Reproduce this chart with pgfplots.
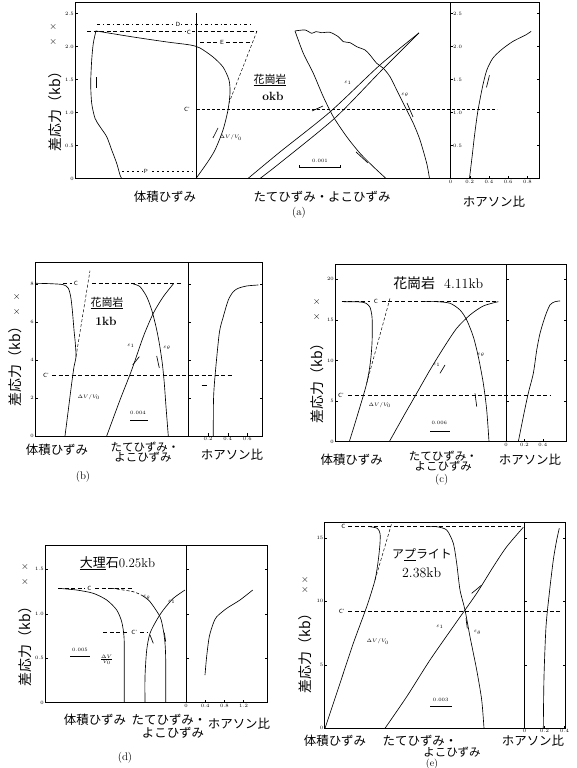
\documentclass[border=0pt]{standalone}
\usepackage{pgfplots}
\pgfplotsset{compat=1.18}
\usepackage{fontspec}
\newfontfamily\cjk{Noto Sans CJK JP}
\newcommand{\tk}{\fontsize{5}{5}\selectfont}
\newcommand{\sm}{\fontsize{6}{6}\selectfont}
\newcommand{\jl}{\fontsize{12.5}{13}\selectfont\cjk}
\tikzset{
 cv/.style={black,line width=0.65bp,smooth,tension=0.45},
 ln/.style={black,line width=0.65bp},
 dsh/.style={black,line width=0.55bp,dash pattern=on 4bp off 2.5bp},
 lb/.style={font=\sm\sffamily,inner sep=0.6pt,fill=white},
 el/.style={font=\tk,inner sep=0.5pt},
}
\pgfplotsset{
 base/.style={scale only axis,anchor=south west,clip=false,
   axis line style={line width=0.8bp},
   every tick/.style={black,line width=0.4bp},
   major tick length=2.5bp,tick align=inside,
   ticklabel style={font=\tk,inner sep=1pt}},
 strain/.style={base,xtick=\empty,ytick pos=left},
 pois/.style={base,xtick pos=bottom,ytick pos=both},
}
\begin{document}
\begin{tikzpicture}
\path[use as bounding box] (0,0) rectangle (577bp,768bp);

%================ (a) =================
\begin{axis}[strain,at={(75bp,589.5bp)},width=375.5bp,height=176.5bp,
  xmin=75,xmax=450.5,ymin=0,ymax=2.674,
  ytick={0,0.5,1,1.5,2,2.5},yticklabels={0,0.5,1.0,1.5,2.0,2.5}]
\addplot[ln] coordinates {(196,0) (196,2.5)};
\addplot[cv] coordinates {(196,0) (207,0.235) (215,0.432) (223,0.735) (228,1.038) (230,1.295) (229,1.492) (223,1.689) (213,1.841) (200,1.977) (190,2.023) (167,2.068) (133,2.144) (96,2.235)};
\addplot[cv] coordinates {(96,2.239) (93.3,2.048) (91.7,1.795) (90.7,1.442) (91.7,1.139) (95,0.912) (100,0.785) (106.7,0.633) (111.7,0.432) (116.7,0.23) (120,0.053) (121.7,0)};
\addplot[black,line width=0.5bp,dash pattern=on 3bp off 3bp on 0.8bp off 3bp] coordinates {(97,2.341) (253,2.341)};
\addplot[dsh] coordinates {(87,2.235) (257,2.235)};
\addplot[dsh] coordinates {(200,2.068) (250,2.068)};
\addplot[black,line width=0.5bp,dash pattern=on 3bp off 2bp] coordinates {(257,2.235) (229,1.144)};
\addplot[black,line width=0.55bp,dash pattern=on 3bp off 2bp] coordinates {(197,1.048) (497,1.048)};
\addplot[black,line width=0.5bp,dash pattern=on 2bp off 3bp] coordinates {(122,0.114) (193,0.114)};
\addplot[ln] coordinates {(96,1.371) (96,1.538)};
\addplot[ln] coordinates {(213,0.614) (218,0.765)};
\node[lb] at (axis cs:178,2.341) {D};
\node[lb] at (axis cs:189,2.22) {C};
\node[lb] at (axis cs:222,2.068) {E};
\node[lb] at (axis cs:187,1.048) {C'};
\node[lb] at (axis cs:146,0.114) {P};
\node[el,anchor=west] at (axis cs:219,0.62) {$\Delta V/V_0$};
% axial / lateral
\addplot[cv] coordinates {(248,0) (280,0.402) (330,1.008) (380,1.72) (419,2.205)};
\addplot[cv] coordinates {(260,0) (280,0.235) (335,0.917) (380,1.614) (419,2.205)};
\addplot[cv] coordinates {(295,2.235) (303.3,1.897) (313.3,1.594) (323.3,1.239) (333.3,0.936) (346.7,0.633) (360,0.382) (373.3,0.179) (386,0)};
\addplot[cv] coordinates {(295,2.235) (305,2.25) (311.7,2.2) (316,2.225) (321.7,2.209) (330,2.215) (338.3,2.148) (343.3,2.073) (350,2.058) (356.7,1.997) (365,1.947) (370,1.871) (376.7,1.745) (383.3,1.67) (390,1.542) (396.7,1.341) (403.3,1.139) (413.3,0.836) (420,0.583) (426.7,0.23) (429.5,0)};
\addplot[ln] coordinates {(312,1.023) (323,1.098)};
\addplot[ln] coordinates {(356,0.402) (368,0.235)};
\addplot[ln] coordinates {(407,1.144) (413,0.932)};
\addplot[black,line width=0.6bp] coordinates {(299,0.2) (299,0.174) (340,0.174) (340,0.2)};
\node[el] at (axis cs:320,0.26) {0.001};
\node[el] at (axis cs:348,1.447) {$\varepsilon_1$};
\node[el] at (axis cs:405,1.265) {$\varepsilon_\theta$};
\end{axis}
\begin{axis}[pois,at={(450.5bp,589.5bp)},width=88.5bp,height=176.5bp,
  xmin=0,xmax=0.92,ymin=0,ymax=2.674,
  xtick={0,0.2,0.4,0.6,0.8},xticklabels={0,0.2,0.4,0.6,0.8},
  ytick={0.5,1,1.5,2,2.5},yticklabels={0.5,1.0,1.5,2.0,2.5},
  yticklabel pos=left,yticklabel style={anchor=west,xshift=1.5bp}]
\addplot[cv] coordinates {(0.197,0) (0.225,0.337) (0.249,0.644) (0.277,0.951) (0.301,1.155) (0.336,1.411) (0.377,1.641) (0.439,1.82) (0.527,1.948) (0.647,2.075) (0.786,2.178) (0.838,2.229)};
\addplot[ln] coordinates {(0.374,1.38) (0.405,1.564)};
\end{axis}
\node[rotate=90,font=\fontsize{14}{14}\selectfont\cjk] at (55bp,660bp) {差応力（kb）};
\node at (53.3bp,741.3bp) {$\times$};
\node at (53.3bp,726.3bp) {$\times$};
\node[font=\jl] at (165bp,571bp) {体積ひずみ};
\node[font=\jl] at (322bp,571bp) {たてひずみ・よこひずみ};
\node[font=\jl] at (494bp,566bp) {ホアソン比};
\node[font=\fontsize{11}{11}\selectfont] at (299bp,555bp) {(a)};
\node[font=\fontsize{11}{11}\selectfont\cjk] at (270bp,688bp) {\underline{花崗岩}};
\node[font=\fontsize{12}{12}\selectfont\bfseries] at (273bp,672bp) {okb};

%================ (b) =================
\begin{axis}[strain,at={(35bp,332bp)},width=153.5bp,height=173.3bp,
  xmin=35,xmax=188.5,ymin=0,ymax=9.12,ytick={0,2,4,6,8}]
\addplot[cv] coordinates {(65,0) (68.3,1.368) (71.7,2.774) (74,3.647) (76,4.174) (75.3,4.879) (74,5.579) (72.3,6.632) (70.7,7.332) (68.3,7.774) (63.3,7.963) (50,8.016) (35,8.037)};
\addplot[black,line width=0.5bp,dash pattern=on 3bp off 2bp] coordinates {(76,4.174) (90,8.7)};
\addplot[dsh] coordinates {(63,8.016) (72,8.016)};
\addplot[dsh] coordinates {(92,8.016) (182,8.016)};
\addplot[dsh] coordinates {(52,3.17) (233,3.17)};
\node[lb] at (axis cs:76,8.016) {C};
\node[lb] at (axis cs:46,3.17) {C'};
\addplot[cv] coordinates {(106.7,0) (120,1.895) (131.7,3.474) (143.3,5.226) (153.3,6.458) (163.3,7.332) (173.3,8.0)};
\addplot[cv] coordinates {(133.3,8.0) (140,7.858) (146.7,7.332) (151.7,6.632) (156,5.753) (159.3,4.879) (162.3,3.826) (164.3,2.774) (166,1.542) (168.3,0)};
\addplot[ln] coordinates {(132.7,3.737) (139.3,4.174)};
\addplot[ln] coordinates {(156.7,4.211) (159.3,3.579)};
\addplot[black,line width=0.6bp] coordinates {(130,0.842) (148,0.842)};
\node[el] at (axis cs:138,1.21) {0.004};
\node[el] at (axis cs:131,4.75) {$\varepsilon_1$};
\node[el] at (axis cs:167,4.63) {$\varepsilon_\theta$};
\node[el,anchor=west] at (axis cs:77,2.05) {$\Delta V/V_0$};
\end{axis}
\begin{axis}[pois,at={(188.5bp,332bp)},width=74.2bp,height=173.3bp,
  xmin=0,xmax=0.757,ymin=0,ymax=9.12,
  xtick={0.2,0.4,0.6},xticklabels={0.2,0.4,0.6},ytick={2,4,6,8},yticklabels={}]
\addplot[cv] coordinates {(0.253,0) (0.255,1.895) (0.27,3.12) (0.314,5.405) (0.355,6.279) (0.406,7.158) (0.457,7.595) (0.508,7.774) (0.594,7.895) (0.712,7.947)};
\addplot[ln] coordinates {(0.135,2.68) (0.186,2.68)};
\end{axis}
\node[rotate=90,font=\fontsize{14}{14}\selectfont\cjk] at (15bp,405bp) {差応力（kb）};
\node at (16.7bp,471.3bp) {$\times$};
\node at (16.7bp,456.3bp) {$\times$};
\node[font=\jl] at (57bp,318bp) {体積ひずみ};
\node[font=\fontsize{11.5}{12}\selectfont\cjk] at (145bp,321.3bp) {たてひずみ・};
\node[font=\fontsize{11.5}{12}\selectfont\cjk] at (143bp,311.3bp) {よこひずみ};
\node[font=\jl] at (232bp,313bp) {ホアソン比};
\node[font=\fontsize{11}{11}\selectfont] at (83bp,291bp) {(b)};
\node[font=\fontsize{11}{11}\selectfont\cjk] at (107bp,465bp) {\underline{花崗岩}};
\node[font=\fontsize{12}{12}\selectfont\bfseries] at (106bp,446.3bp) {1kb};

%================ (c) =================
\begin{axis}[strain,at={(335bp,326.3bp)},width=171bp,height=177.7bp,
  xmin=335,xmax=506,ymin=0,ymax=21.88,ytick={0,5,10,15,20}]
\addplot[cv] coordinates {(349.3,0) (355,2.266) (360,4.31) (364,5.961) (366.7,7.192) (369.3,8.83) (371,10.468) (372,12.118) (372.3,13.756) (372,15.394) (370,16.552) (366,17.044) (360,17.204) (343.3,17.241)};
\addplot[black,line width=0.5bp,dash pattern=on 3bp off 2bp] coordinates {(366.7,7.192) (390,17.66)};
\addplot[dsh] coordinates {(341.7,17.241) (370,17.241)};
\addplot[dsh] coordinates {(381.7,17.241) (498.3,17.241)};
\addplot[dsh] coordinates {(348,5.67) (550,5.67)};
\node[lb] at (axis cs:376,17.241) {C};
\node[lb] at (axis cs:341,5.67) {C'};
\addplot[cv] coordinates {(389.3,0) (403.3,3.079) (416.7,5.961) (430,8.83) (443.3,11.502) (456.7,13.966) (470,15.603) (483.3,16.712) (498.3,17.241)};
\addplot[cv] coordinates {(423.3,17.241) (436.7,17.241) (450,17.044) (460,16.219) (466.7,14.988) (473.3,12.931) (478.3,10.468) (483.3,7.192) (486.7,3.904) (489,0)};
\addplot[ln] coordinates {(440,8.42) (445,9.45)};
\addplot[ln] coordinates {(475,5.96) (476.7,4.31)};
\addplot[black,line width=0.6bp] coordinates {(430,1.23) (450,1.23)};
\node[el] at (axis cs:439.3,2.27) {0.006};
\node[el] at (axis cs:436.7,9.45) {$\varepsilon_1$};
\node[el] at (axis cs:481,10.68) {$\varepsilon_\theta$};
\node[el,anchor=west] at (axis cs:368,4.52) {$\Delta V/V_0$};
\end{axis}
\begin{axis}[pois,at={(506bp,326.3bp)},width=60bp,height=177.7bp,
  xmin=0,xmax=0.652,ymin=0,ymax=21.88,
  xtick={0,0.2,0.4},xticklabels={0,0.2,0.4},ytick={5,10,15,20},yticklabels={}]
\addplot[cv] coordinates {(0.134,0) (0.188,3.08) (0.242,5.96) (0.297,8.42) (0.334,11.29) (0.37,13.35) (0.424,15.39) (0.478,16.84) (0.533,17.24) (0.587,17.33)};
\end{axis}
\node[rotate=90,font=\fontsize{14}{14}\selectfont\cjk] at (316.7bp,388bp) {差応力（kb）};
\node at (316.7bp,466.3bp) {$\times$};
\node at (316.7bp,451.3bp) {$\times$};
\node[font=\fontsize{14}{14}\selectfont] at (438.3bp,484.7bp) {{\cjk 花崗岩}\ \ 4.11kb};
\node[font=\jl] at (351.7bp,308.7bp) {体積ひずみ};
\node[font=\fontsize{11.5}{12}\selectfont\cjk] at (443.3bp,312bp) {たてひずみ・};
\node[font=\fontsize{11.5}{12}\selectfont\cjk] at (443.3bp,302bp) {よこひずみ};
\node[font=\jl] at (530bp,308.7bp) {ホアソン比};
\node[font=\fontsize{11}{11}\selectfont] at (441.7bp,288bp) {(c)};

%================ (d) =================
\begin{axis}[strain,at={(45bp,65.3bp)},width=141bp,height=157.7bp,
  xmin=45,xmax=186,ymin=0,ymax=1.772,
  ytick={0,0.5,1,1.5},yticklabels={0,0.5,1.0,1.5}]
\addplot[cv] coordinates {(58.3,1.285) (76.7,1.266) (93.3,1.229) (106.7,1.154) (116.7,1.042) (121.7,0.91) (124,0.742) (124.3,0.48) (124.3,0)};
\addplot[dsh] coordinates {(58.3,1.285) (85,1.285)};
\addplot[dsh] coordinates {(95,1.285) (133.3,1.285)};
\node[lb] at (axis cs:89.3,1.285) {C};
\addplot[black,line width=0.6bp,dash pattern=on 3bp off 2bp,smooth] coordinates {(111.7,1.285) (133.3,1.247) (143,1.199)};
\addplot[cv] coordinates {(143,1.199) (150,1.135) (160,0.966) (163.3,0.817) (165,0.667) (165.7,0.48) (165.7,0)};
\addplot[cv] coordinates {(145,0) (145,0.292) (146.7,0.592) (150,0.78) (156.7,0.929) (163.3,1.042) (173.3,1.173) (185,1.266)};
\addplot[dsh] coordinates {(103.3,0.787) (127,0.787)};
\addplot[dsh] coordinates {(140,0.787) (146.7,0.787)};
\node[lb] at (axis cs:134.3,0.787) {C'};
\addplot[black,line width=0.7bp] coordinates {(70,0.525) (90,0.525)};
\node[el] at (axis cs:80,0.59) {0.005};
\addplot[ln] coordinates {(150,0.761) (153.3,0.667)};
\addplot[ln] coordinates {(164.3,0.787) (165.7,0.685)};
\node[el] at (axis cs:146.7,1.184) {$\varepsilon_\theta$};
\node[el] at (axis cs:171.7,1.135) {$\varepsilon_1$};
\node[el] at (axis cs:106.7,0.48) {$\frac{\Delta V}{V_0}$};
\end{axis}
\begin{axis}[pois,at={(186bp,65.3bp)},width=81.3bp,height=157.7bp,
  xmin=0,xmax=1.694,ymin=0,ymax=1.772,
  xtick={0,0.4,0.8,1.2},xticklabels={0,0.4,0.8,1.2},ytick={0.5,1,1.5},yticklabels={}]
\addplot[cv] coordinates {(0.396,0.311) (0.43,0.517) (0.485,0.742) (0.569,0.892) (0.64,0.966) (0.848,1.06) (1.125,1.154) (1.39,1.266)};
\end{axis}
\node[rotate=90,font=\fontsize{14}{14}\selectfont\cjk] at (25bp,125bp) {差応力（kb）};
\node at (25bp,201.3bp) {$\times$};
\node at (25bp,186.3bp) {$\times$};
\node[font=\fontsize{13}{13}\selectfont] at (117.5bp,204.7bp) {{\cjk\underline{大理}石}0.25kb};
\node[font=\jl] at (95bp,48.7bp) {体積ひずみ};
\node[font=\jl] at (169bp,48.7bp) {たてひずみ・};
\node[font=\jl] at (173bp,35.3bp) {よこひずみ};
\node[font=\jl] at (239bp,44.7bp) {ホアソン比};
\node[font=\fontsize{11}{11}\selectfont] at (125bp,10bp) {(d)};

%================ (e) =================
\begin{axis}[strain,at={(324.5bp,39.7bp)},width=200bp,height=205.6bp,
  xmin=324.5,xmax=524.5,ymin=0,ymax=16.19,ytick={0,5,10,15}]
\addplot[cv] coordinates {(325,0) (340,3.543) (353.3,6.693) (366.7,9.575) (375,11.677) (378.3,13.252) (380,14.567) (380,15.354) (377.3,15.748) (370,15.874)};
\addplot[black,line width=0.5bp,dash pattern=on 3bp off 2bp] coordinates {(375,11.677) (391.7,16.14)};
\addplot[dsh] coordinates {(348.3,15.874) (523.3,15.874)};
\addplot[dsh] coordinates {(348.3,9.236) (560,9.236)};
\node[lb] at (axis cs:343.3,15.874) {C};
\node[lb] at (axis cs:341.7,9.236) {C'};
\addplot[cv] coordinates {(385,0) (406.7,2.488) (430,5.378) (456.7,8.394) (476.7,10.63) (493.3,12.724) (506.7,14.299) (523.3,15.827)};
\addplot[cv] coordinates {(430,15.874) (436.7,15.874) (446.7,15.614) (453.3,14.567) (456.7,12.992) (460,10.89) (465,9.315) (470,7.213) (476.7,4.591) (481.7,2.228) (484,0)};
\addplot[ln] coordinates {(471.7,10.63) (481.7,11.28)};
\addplot[ln] coordinates {(466,8.66) (467.3,7.87)};
\addplot[black,line width=0.6bp] coordinates {(430,1.70) (451.7,1.70)};
\node[el] at (axis cs:440.7,2.23) {0.003};
\node[el] at (axis cs:440,8.0) {$\varepsilon_1$};
\node[el] at (axis cs:477.5,7.53) {$\varepsilon_\theta$};
\node[el,anchor=west] at (axis cs:366,6.82) {$\Delta V/V_0$};
\end{axis}
\begin{axis}[pois,at={(524.5bp,39.7bp)},width=41bp,height=205.6bp,
  xmin=0,xmax=0.41,ymin=0,ymax=16.19,
  xtick={0,0.2,0.4},xticklabels={0,0.2,0.4},ytick={5,10,15},yticklabels={}]
\addplot[cv] coordinates {(0.188,0) (0.195,4.063) (0.215,8.0) (0.248,10.63) (0.288,13.252) (0.322,14.827) (0.348,15.748)};
\end{axis}
\node[rotate=90,font=\fontsize{14}{14}\selectfont\cjk] at (305bp,118bp) {差応力（kb）};
\node at (305bp,188bp) {$\times$};
\node at (305bp,178bp) {$\times$};
\node[font=\fontsize{12}{12}\selectfont\cjk] at (422bp,213bp) {ア\underline{プ}ライト};
\node[font=\fontsize{14}{14}\selectfont] at (421.7bp,194.7bp) {2.38kb};
\node[font=\jl] at (335bp,27bp) {体積ひずみ};
\node[font=\jl] at (420bp,27bp) {たてひずみ・};
\node[font=\fontsize{11.5}{12}\selectfont\cjk] at (452bp,15.5bp) {よこひずみ};
\node[font=\jl] at (533bp,27bp) {ホアソン比};
\node[font=\fontsize{10}{10}\selectfont,inner sep=0.5pt] at (432bp,3.6bp) {(e)};
\end{tikzpicture}
\end{document}
